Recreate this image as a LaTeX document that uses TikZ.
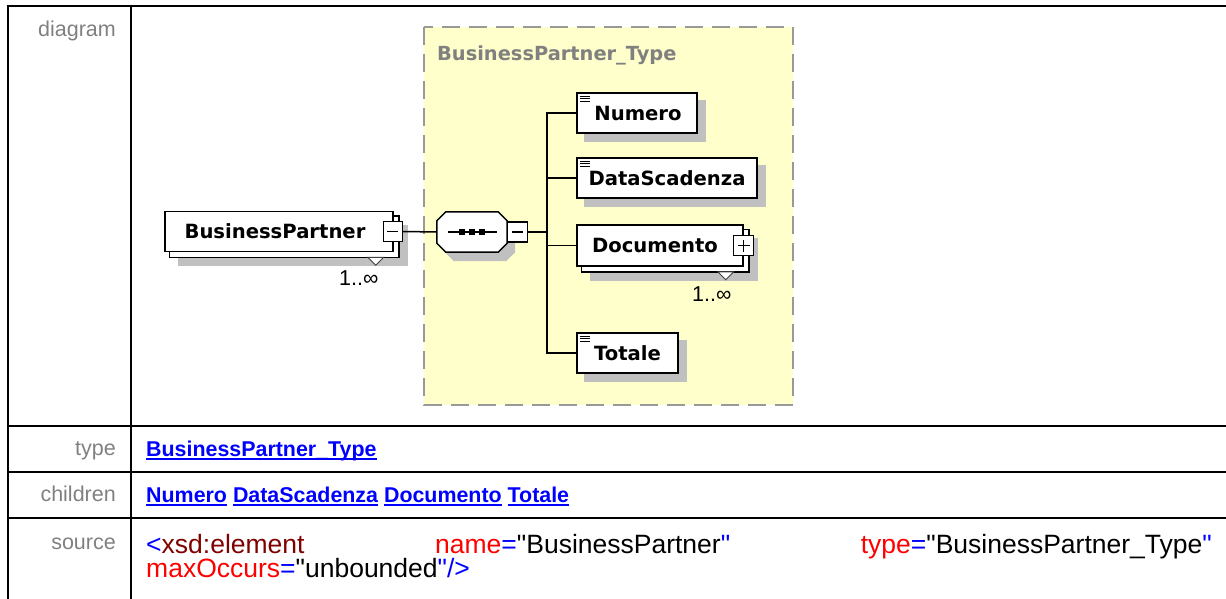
\documentclass[tikz,border=0pt]{standalone}
\usepackage{fontspec}
\setmainfont{Liberation Sans}
\newfontfamily\srcfont{Liberation Sans}
\newfontfamily\diafont{DejaVu Sans}
\usetikzlibrary{calc}
\pgfdeclarelayer{background}
\pgfsetlayers{background,main}
\definecolor{lbl}{HTML}{808080}
\definecolor{yel}{HTML}{FFFFCC}
\definecolor{dashc}{HTML}{999999}
\definecolor{shad}{HTML}{C0C0C0}
\definecolor{lnkblue}{HTML}{0000FF}
\definecolor{dred}{HTML}{800000}
\definecolor{attr}{HTML}{FF0000}
\newcommand\uln[1]{\setbox0\hbox{#1}\rlap{\rule[-3.5pt]{\wd0}{1.6pt}}\box0\relax}
\tikzset{
  tbl/.style={line width=2pt, black},
  lab/.style={font=\fontsize{21.5}{24}\selectfont, text=lbl, inner sep=0, anchor=base east},
  lnk/.style={font=\fontsize{21.4}{24}\selectfont\bfseries, text=lnkblue, inner sep=0, anchor=base west},
  src/.style={font=\srcfont\fontsize{26.5}{30}\selectfont, inner sep=0},
  elem/.style={draw, line width=1.5pt, fill=white, inner sep=0, minimum height=40pt,
               font=\diafont\bfseries\fontsize{19.6}{22}\selectfont},
  pm/.style={draw, line width=1.3pt, fill=white, inner sep=0, minimum width=19pt, minimum height=20pt},
  conn/.style={line width=1.5pt, black},
  occ/.style={font=\fontsize{21.5}{22}\selectfont, inner sep=0},
  tri/.style={draw=black!75, line width=1pt, fill=white},
  seqnode/.style={draw=none, inner sep=0, minimum width=70pt, minimum height=40pt},
}
\newcommand\octpath[1]{([xshift=9pt]#1.north west) -- ([xshift=-9pt]#1.north east) -- ([yshift=-9pt]#1.north east) -- ([yshift=9pt]#1.south east) -- ([xshift=-9pt]#1.south east) -- ([xshift=9pt]#1.south west) -- ([yshift=9pt]#1.south west) -- ([yshift=-9pt]#1.north west) -- cycle}
\begin{document}
\begin{tikzpicture}[x=1pt,y=-1pt]
\useasboundingbox (0,0) rectangle (1226,599);
% table
\draw[tbl] (6.5,6) -- (1226,6);
\draw[tbl] (7.5,5) -- (7.5,599);
\draw[tbl] (130.5,5) -- (130.5,599);
\draw[tbl] (7,426) -- (1226,426);
\draw[tbl] (7,472) -- (1226,472);
\draw[tbl] (7,518) -- (1226,518);
% row labels
\node[lab] (ldia) at (116,37) {diagram};
\node[lab] (ltype) at (116,455) {type};
\node[lab] (lchil) at (116,501) {children};
\node[lab] (lsrc) at (116,549) {source};
% type / children
\node[lnk] (ttype) at (146,456) {\uln{BusinessPartner\_Type}};
\node[lnk] (tchil) at (146,502) {\uln{Numero} \uln{DataScadenza} \uln{Documento} \uln{Totale}};
% source
\node[src, anchor=base west] (s1) at (146,553) {\textcolor{lnkblue}{<}\textcolor{dred}{xsd:element}};
\node[src, anchor=base west] (s2) at (435,553) {\textcolor{attr}{name}\textcolor{lnkblue}{=}"BusinessPartner\textcolor{lnkblue}{"}};
\node[src, anchor=base east] (s3) at (1212,553) {\textcolor{attr}{type}\textcolor{lnkblue}{=}"BusinessPartner\_Type\textcolor{lnkblue}{"}};
\node[src, anchor=base west] (s4) at (146,577) {\textcolor{attr}{maxOccurs}\textcolor{lnkblue}{=}"unbounded\textcolor{lnkblue}{"/>}};

% diagram nodes
\node[font=\diafont\bfseries\fontsize{19.4}{22}\selectfont, text=lbl, inner sep=0, anchor=base west] (title) at (437,61) {BusinessPartner\_Type};
\node[elem, minimum width=228pt] (bp) at (279,231.5) {BusinessPartner\hspace*{8pt}};
\node[pm] (bpm) at ([xshift=-1pt]bp.east) {};
\node[seqnode] (seq) at (472,232) {};
\node[pm, minimum width=20pt] (seqm) at ([xshift=10pt]seq.east) {};
\coordinate (bus) at (547,232);
\node[elem, minimum width=120pt] (num) at (637,113) {\hspace*{2pt}Numero};
\node[elem, minimum width=180pt] (dat) at (667,178) {DataScadenza};
\node[elem, minimum width=166pt, minimum height=41pt] (doc) at (660,245.5) {Documento\hspace*{10pt}};
\node[pm, minimum width=20pt] (docp) at (doc.east) {};
\node[elem, minimum width=101pt] (tot) at (627.5,353) {Totale};
\node[occ] (bpocc) at ($(bp.south east)+(-35,26)$) {1..∞};
\node[occ] (dococc) at ($(doc.south east)+(-32,27)$) {1..∞};

% octagon and inner marks
\fill[white] \octpath{seq};
\draw[line width=1.5pt] \octpath{seq};
\draw[line width=1.3pt] ([xshift=-24pt]seq.center) -- ([xshift=25pt]seq.center);
\foreach \dx in {-10,0,10} \fill ([xshift=\dx pt]seq.center) ++(-2.6,-2.6) rectangle ++(5.2,5.2);
% minus / plus signs
\draw[line width=1.3pt] ([xshift=-5.5pt]bpm.center) -- ([xshift=5.5pt]bpm.center);
\draw[line width=1.3pt] ([xshift=-5.5pt]seqm.center) -- ([xshift=5.5pt]seqm.center);
\draw[line width=1.3pt] ([xshift=-6pt]docp.center) -- ([xshift=6pt]docp.center);
\draw[line width=1.3pt] ([yshift=-6pt]docp.center) -- ([yshift=6pt]docp.center);
% simple-content icons
\foreach \n in {num,dat,tot} {
  \foreach \dy in {4,6.5,9} \draw[line width=0.9pt] ($(\n.north west)+(3.5,\dy)$) -- ++(10,0);
}

% connectors
\draw[conn] (bpm.east) -- (seq.west);
\draw[conn] (seqm.east) -- (bus);
\foreach \n in {num,dat,doc,tot} \draw[conn] (bus) |- (\n.west);

% background: yellow box, shadows, back copies
\begin{pgfonlayer}{background}
\fill[yel] (424,27) rectangle (793,405);
\draw[dashc, line width=2pt, dash pattern=on 18pt off 9pt] (424,27) rectangle (793,405);
\fill[shad] ($(bp.north west)+(14,14)$) rectangle ($(bp.south east)+(14,14)$);
\draw[line width=1.5pt, fill=white] ($(bp.north west)+(5,5)$) rectangle ($(bp.south east)+(5,5)$);
\fill[shad] ($(doc.north west)+(14,14)$) rectangle ($(doc.south east)+(14,14)$);
\draw[line width=1.5pt, fill=white] ($(doc.north west)+(5,5)$) rectangle ($(doc.south east)+(5,5)$);
\foreach \n in {num,dat,tot} \fill[shad] ($(\n.north west)+(8,8)$) rectangle ($(\n.south east)+(8,8)$);
\begin{scope}[transform canvas={shift={(8,9)}}]
\fill[shad] \octpath{seq};
\end{scope}
\end{pgfonlayer}
% occurrence triangles
\draw[tri] ($(bp.south east)+(-26,5)$) -- ($(bp.south east)+(-10,5)$) -- ($(bp.south east)+(-18,13)$) -- cycle;
\draw[tri] ($(doc.south east)+(-26,5)$) -- ($(doc.south east)+(-10,5)$) -- ($(doc.south east)+(-18,13)$) -- cycle;
\end{tikzpicture}
\end{document}
